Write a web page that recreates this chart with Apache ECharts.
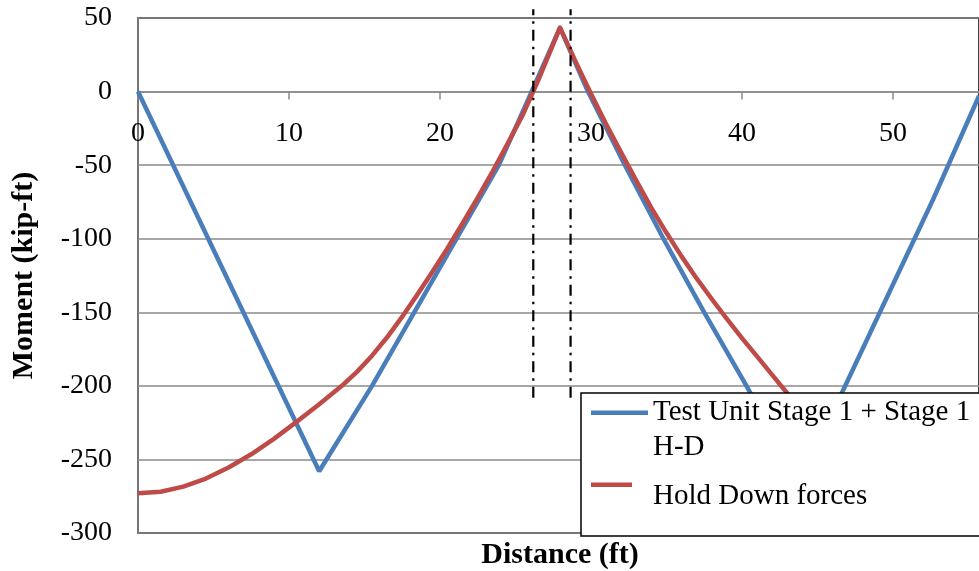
<!DOCTYPE html>
<html>
<head>
<meta charset="utf-8">
<script src="https://cdn.jsdelivr.net/npm/echarts@6/dist/echarts.min.js"></script>
<style>
html,body{margin:0;padding:0;background:#fff;}
#chart{width:979px;height:571px;}
</style>
</head>
<body>
<div id="chart"></div>
<script>
// ---- data ----
const blueName = 'Test Unit Stage 1 + Stage 1 H-D';
const redName = 'Hold Down forces';
const blueX = [0, 12, 15.5, 21.1, 23.9, 26.07, 27.95, 29.8, 32.25, 34.8, 37.5, 40.3, 43.6, 46.7, 52.65, 55.7];
const blueY = [0, -258, -200, -100, -50, 0, 43.5, 0, -50, -100, -150, -200, -262, -203, -73.5, -3];
const redX = [0, 1.5, 3, 4.5, 6, 7.5, 9, 10.5, 12, 13.5, 14.5, 15.5, 16.5, 17.5, 18.5, 19.5, 20.5, 21.5, 22.5, 23.5, 24.5, 25.5, 26.5, 27.95,
              29, 30, 31, 32, 33, 34, 35, 36, 37, 38, 39, 40, 41, 42, 43, 44, 45];
const redY = [-273, -272, -268.5, -263, -255.5, -246.5, -236, -224.5, -212.5, -200, -190.5, -179.5, -167, -153, -138, -122.5, -106.5, -89.5, -72, -54, -35, -15.5, 7.5, 43.5,
              20, -1.5, -22, -41.5, -60.5, -79, -96, -112, -127, -141, -154.5, -167.5, -180, -192.5, -205, -217, -229];
const markerX = [26.18, 28.65];
const markerY = [-208, 56];
const yTicks = [-300, -250, -200, -150, -100, -50, 0, 50];
const xTicks = [0, 10, 20, 30, 40, 50];
const xMax = 55.7;

const zip = (xs, ys) => xs.map((x, i) => [x, ys[i]]);
const FONT = "'Liberation Serif', 'Times New Roman', serif";
const GRID_GRAY = '#8a8a8a';
const W = 979, H = 571, GL = 138, GT = 18, GB = 38;
const yMin = yTicks[0], yMax = yTicks[yTicks.length - 1];
// place the x axis on the zero line (distance from the top edge of the plot)
const zeroOffset = (yMax / (yMax - yMin)) * (H - GT - GB);

const chart = echarts.init(document.getElementById('chart'), null, {renderer: 'canvas'});
const markerSeries = markerX.map((x, i) => ({
  type: 'line',
  name: 'marker' + i,
  data: markerY.map(y => [x, y]),
  symbol: 'none',
  clip: false,
  silent: true,
  z: 5,
  lineStyle: {color: '#000', width: 2.2, type: [11, 6, 2.5, 6]}
}));

chart.setOption({
  animation: false,
  backgroundColor: '#fff',
  textStyle: {fontFamily: FONT},
  grid: {
    left: GL, right: 0, top: GT, bottom: GB,
    outerBoundsMode: 'none', containLabel: false,
    show: true, borderColor: '#000', borderWidth: 1.5, backgroundColor: 'transparent'
  },
  xAxis: {
    type: 'value', position: 'top', offset: -zeroOffset,
    min: xTicks[0], max: xMax, interval: 10,
    axisLine: {show: true, onZero: false, lineStyle: {color: GRID_GRAY, width: 1.5}},
    axisTick: {show: true, inside: true, length: 8, lineStyle: {color: GRID_GRAY, width: 1.5}},
    axisLabel: {inside: true, fontFamily: FONT, fontSize: 28, color: '#000', margin: 28, showMaxLabel: false},
    splitLine: {show: false}
  },
  yAxis: {
    type: 'value', min: yMin, max: yMax, interval: 50,
    axisLine: {show: true, onZero: false, lineStyle: {color: GRID_GRAY, width: 1.5}},
    axisTick: {show: false},
    axisLabel: {fontFamily: FONT, fontSize: 28, color: '#000', margin: 26, padding: [4, 0, 0, 0]},
    splitLine: {show: true, lineStyle: {color: GRID_GRAY, width: 1.5}},
    name: 'Moment (kip-ft)', nameLocation: 'middle', nameGap: 99,
    nameTextStyle: {fontFamily: FONT, fontSize: 30, fontWeight: 'bold', color: '#000'}
  },
  legend: {
    orient: 'vertical', left: 591, top: 395, padding: 0,
    itemWidth: 57, itemHeight: 39, itemGap: 12, z: 20,
    selectedMode: false,
    itemStyle: {borderWidth: 0},
    textStyle: {fontFamily: FONT, fontSize: 29, lineHeight: 35, color: '#000'},
    formatter: function (name) {
      return name === blueName ? 'Test Unit Stage 1 + Stage 1\nH-D' : name;
    },
    data: [
      {name: blueName, icon: 'path://M0 0 L57 0 L57 4.5 L0 4.5 Z M0 39 L0 39'},
      {name: redName, icon: 'path://M0 5.5 L41 5.5 L41 10 L0 10 Z M0 0 L0 0 M57 39 L57 39'}
    ]
  },
  graphic: [
    {
      type: 'rect', z: 10, silent: true,
      shape: {x: 581, y: 393, width: 420, height: 143},
      style: {fill: '#fff', stroke: '#000', lineWidth: 1.5}
    },
    {
      type: 'text', z: 10, silent: true, x: 560, y: 555,
      style: {text: 'Distance (ft)', fontFamily: FONT, fontSize: 30, fontWeight: 'bold',
              fill: '#000', align: 'center', verticalAlign: 'middle'}
    }
  ],
  series: [
    {
      type: 'line', name: blueName, data: zip(blueX, blueY), symbol: 'none', z: 2,
      lineStyle: {color: '#4A7EBB', width: 4.5}, itemStyle: {color: '#4A7EBB'}
    },
    {
      type: 'line', name: redName, data: zip(redX, redY), symbol: 'none', z: 3,
      lineStyle: {color: '#BE4B48', width: 4.5, join: 'round'}, itemStyle: {color: '#BE4B48'}
    }
  ].concat(markerSeries)
});
</script>
</body>
</html>
